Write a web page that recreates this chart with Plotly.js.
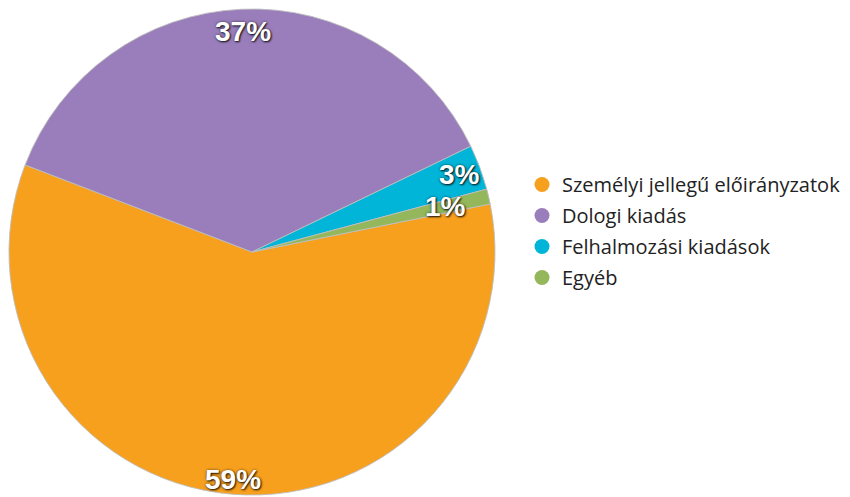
<!DOCTYPE html>
<html>
<head>
<meta charset="utf-8">
<script src="https://cdn.plot.ly/plotly-3.0.1.min.js"></script>
<style>
html,body{margin:0;padding:0;background:#fff;}
#chart{width:850px;height:497px;}
.annotation-text{text-shadow:1px 1px 2px rgba(0,0,0,0.85), 0 0 3px rgba(0,0,0,0.5);}
</style>
</head>
<body>
<div id="chart"></div>
<script>
// Data
var categories = ["Személyi jellegű előirányzatok", "Dologi kiadás", "Felhalmozási kiadások", "Egyéb"];
var values = [59, 37, 3, 1];
var labelsText = ["59%", "37%", "3%", "1%"];
var colors = ["#F7A01E", "#9A7EBB", "#00B5D8", "#93B75A"];

// Layout geometry
var W = 850, H = 497;
var cxPx = 252, cyPx = 252, rPx = 243;
var rotation = 78.6;
var labelRadius = [0.94, 0.91, 0.91, 0.82];

var pie = {
  type: "pie",
  labels: categories,
  values: values,
  sort: false,
  direction: "clockwise",
  rotation: rotation,
  marker: {colors: colors, line: {color: "rgba(190,190,190,0.9)", width: 1}},
  textinfo: "none",
  hoverinfo: "label+percent",
  showlegend: false,
  domain: {x: [(cxPx - rPx) / W, (cxPx + rPx) / W], y: [(H - cyPx - rPx) / H, (H - cyPx + rPx) / H]}
};

var traces = [pie];
categories.forEach(function (c, i) {
  traces.push({
    type: "scatter", mode: "markers", x: [null], y: [null], name: c,
    legendgroup: "g" + i,
    marker: {color: colors[i], size: 15, symbol: "circle"},
    hoverinfo: "skip"
  });
});

var total = values.reduce(function (a, b) { return a + b; }, 0);
var annotations = [];
var cum = 0;
values.forEach(function (v, i) {
  var mid = rotation + 360 * (cum + v / 2) / total;
  cum += v;
  var t = mid * Math.PI / 180;
  var px = cxPx + labelRadius[i] * rPx * Math.sin(t);
  var py = cyPx - labelRadius[i] * rPx * Math.cos(t);
  annotations.push({
    xref: "paper", yref: "paper", x: px / W, y: (H - py) / H,
    text: labelsText[i], showarrow: false, xanchor: "center", yanchor: "middle",
    font: {family: "Liberation Sans, Arial, sans-serif", size: 28, color: "#ffffff", weight: "bold"}
  });
});

var layout = {
  width: W, height: H,
  margin: {l: 0, r: 0, t: 0, b: 0},
  paper_bgcolor: "#ffffff", plot_bgcolor: "rgba(0,0,0,0)",
  xaxis: {visible: false, domain: [0.62, 0.63]},
  yaxis: {visible: false, domain: [0.5, 0.51]},
  showlegend: true,
  legend: {
    x: 522 / W, y: (H - 165) / H, xanchor: "left", yanchor: "top",
    font: {family: "Open Sans, sans-serif", size: 20, color: "#222222"},
    tracegroupgap: 2, bgcolor: "rgba(0,0,0,0)"
  },
  annotations: annotations
};

Plotly.newPlot("chart", traces, layout, {displayModeBar: false, staticPlot: true});
</script>
</body>
</html>
